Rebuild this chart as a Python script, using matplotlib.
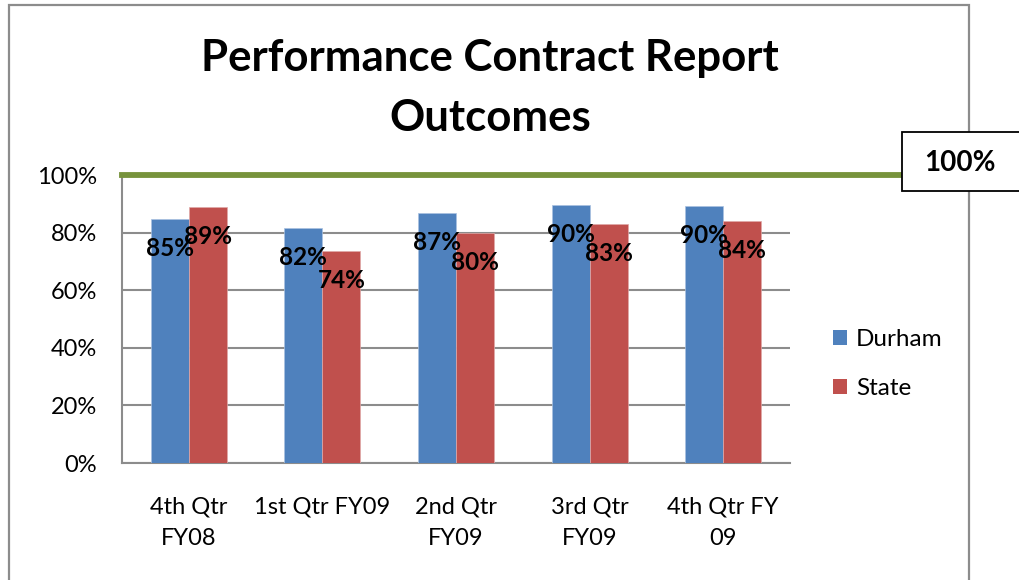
import matplotlib
matplotlib.use("Agg")
import matplotlib.pyplot as plt
from matplotlib.patches import Rectangle, Patch
from matplotlib.ticker import FuncFormatter
import numpy as np

categories = ["4th Qtr\nFY08", "1st Qtr FY09", "2nd Qtr\nFY09", "3rd Qtr\nFY09", "4th Qtr FY\n09"]
durham = [85, 82, 87, 90, 90]
state = [89, 74, 80, 83, 84]
durham_plot = [84.7, 81.6, 86.8, 89.6, 89.2]
state_plot = [88.9, 73.6, 79.9, 83.0, 84.0]
target = 100
yticks = [0, 20, 40, 60, 80, 100]

FONT = "Lato"
W, H = 1019, 580
fig = plt.figure(figsize=(W / 100, H / 100), dpi=100)
fig.patch.set_facecolor("white")

def fx(px):
    return px / W

def fy(py):
    return 1 - py / H

ax = fig.add_axes([fx(122), fy(463), fx(790) - fx(122), fy(175) - fy(463)])
x = np.arange(len(categories))
bw = 0.284
blue = "#4F81BD"
red = "#C0504D"
ax.bar(x - bw / 2, durham_plot, bw, color=blue, edgecolor="#a9c1e0", linewidth=0.5, zorder=3, label="Durham")
ax.bar(x + bw / 2, state_plot, bw, color=red, edgecolor="#e0a9a8", linewidth=0.5, zorder=3, label="State")

for i in range(len(categories)):
    ax.annotate(f"{durham[i]}%", (x[i] - bw / 2, durham_plot[i]), xytext=(0, -21), textcoords="offset points",
                ha="center", va="center", fontsize=17.5, fontweight="bold", family=FONT, zorder=5)
    ax.annotate(f"{state[i]}%", (x[i] + bw / 2, state_plot[i]), xytext=(0, -21), textcoords="offset points",
                ha="center", va="center", fontsize=17.5, fontweight="bold", family=FONT, zorder=5)

ax.set_xlim(-0.5, len(categories) - 0.5)
ax.set_ylim(0, 100)
ax.set_yticks(yticks)
ax.yaxis.set_major_formatter(FuncFormatter(lambda v, p: f"{int(v)}%"))
ax.set_xticks(x)
ax.set_xticklabels(categories, family=FONT, fontsize=17, linespacing=1.6)
for lab in ax.get_yticklabels():
    lab.set_family(FONT)
    lab.set_fontsize(17)
ax.tick_params(axis="both", length=0)
ax.tick_params(axis="y", pad=18)
ax.tick_params(axis="x", pad=24)
ax.grid(axis="y", color="#8c8c8c", linewidth=1.5, zorder=0)
for s in ["top", "right"]:
    ax.spines[s].set_visible(False)
for s in ["left", "bottom"]:
    ax.spines[s].set_color("#8c8c8c")
    ax.spines[s].set_linewidth(1.5)

# target line extending past the axes
ax.axhline(target, xmin=0, xmax=(903 - 122) / (790 - 122), color="#77933C", linewidth=4.2, clip_on=False, zorder=6)

# outer chart frame
fig.patches.append(Rectangle((fx(9), fy(700)), fx(969) - fx(9), fy(5) - fy(700), transform=fig.transFigure,
                             fill=False, edgecolor="#8c8c8c", linewidth=1.6, zorder=0))
# target box
fig.patches.append(Rectangle((fx(902), fy(191)), fx(1030) - fx(902), fy(132) - fy(191), transform=fig.transFigure,
                             facecolor="white", edgecolor="black", linewidth=1.3, zorder=10))
fig.text(fx(960), fy(163), f"{target}%", ha="center", va="center", fontsize=20, fontweight="bold", family=FONT, zorder=11)

fig.text(fx(490), fy(88), "Performance Contract Report\nOutcomes", ha="center", va="center",
         fontsize=31.5, fontweight="bold", family=FONT, linespacing=1.62)

handles = [Patch(facecolor=blue), Patch(facecolor=red)]
fig.legend(handles, ["Durham", "State"], loc="center left", bbox_to_anchor=(fx(811), fy(364)),
           frameon=False, prop={"family": FONT, "size": 17.5}, handlelength=0.6, handleheight=0.6,
           handletextpad=0.35, labelspacing=1.15)

fig.savefig("out.png", dpi=100, facecolor="white")
